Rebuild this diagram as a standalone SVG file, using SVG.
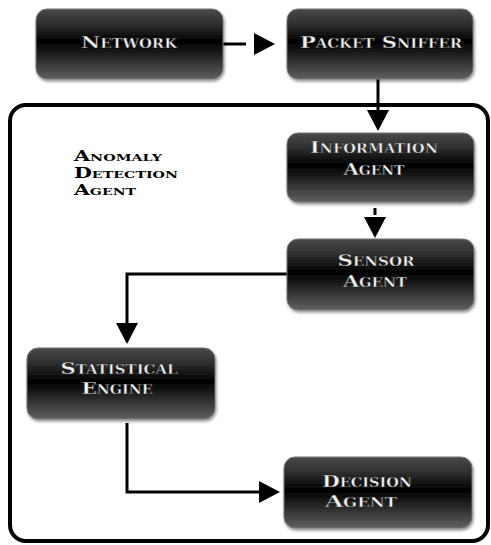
<svg xmlns="http://www.w3.org/2000/svg" width="491" height="545" viewBox="0 0 491 545">
<defs>
<linearGradient id="g" x1="0" y1="0" x2="0" y2="1">
<stop offset="0" stop-color="#4a4a4a"/>
<stop offset="0.22" stop-color="#2e2e2e"/>
<stop offset="0.47" stop-color="#000"/>
<stop offset="0.6" stop-color="#161616"/>
<stop offset="1" stop-color="#606060"/>
</linearGradient>
<filter id="sh" x="-10%" y="-10%" width="120%" height="130%">
<feDropShadow dx="1" dy="2" stdDeviation="1.5" flood-color="#000" flood-opacity="0.45"/>
</filter>
<marker id="ah" markerUnits="userSpaceOnUse" markerWidth="22" markerHeight="24" viewBox="0 0 22 24" refX="0" refY="12" orient="auto">
<path d="M0,1 L21,12 L0,23 z" fill="#000"/>
</marker>
<style>
.box{fill:url(#g);stroke:#777;stroke-width:1;filter:url(#sh)}
.lbl{font-family:"DejaVu Serif","Liberation Serif",serif;font-weight:bold;font-variant:small-caps;font-size:17px;fill:#f2f2f2;text-anchor:middle;stroke:#1a1a1a;stroke-width:0.4}
.ttl{font-family:"DejaVu Serif","Liberation Serif",serif;font-weight:bold;font-variant:small-caps;font-size:14.5px;fill:#000}
.con{fill:none;stroke:#000;stroke-width:3}
</style>
</defs>
<rect id="container" x="10" y="105" width="478" height="436" rx="16" fill="none" stroke="#000" stroke-width="4"/>
<g id="connectors">
<path class="con" d="M223,44 H254" stroke-dasharray="23 100" marker-end="url(#ah)"/>
<path class="con" d="M378,79 V110" marker-end="url(#ah)"/>
<path class="con" d="M375,208 V217" stroke-dasharray="7 20" marker-end="url(#ah)"/>
<path class="con" d="M287,274 H127 V323" marker-end="url(#ah)"/>
<path class="con" d="M127,423 V492 H259" marker-end="url(#ah)"/>
</g>
<g id="anomaly-label">
<text class="ttl" x="74" y="161" textLength="88" lengthAdjust="spacingAndGlyphs">Anomaly</text>
<text class="ttl" x="74" y="178" textLength="104" lengthAdjust="spacingAndGlyphs">Detection</text>
<text class="ttl" x="74" y="195" textLength="62" lengthAdjust="spacingAndGlyphs">Agent</text>
</g>
<g id="network">
<rect class="box" x="36" y="9" width="187" height="70" rx="11"/>
<text class="lbl" x="129" y="48" textLength="96" lengthAdjust="spacingAndGlyphs">Network</text>
</g>
<g id="packet-sniffer">
<rect class="box" x="287" y="9" width="186" height="70" rx="11"/>
<text class="lbl" x="381" y="48" textLength="162" lengthAdjust="spacingAndGlyphs">Packet Sniffer</text>
</g>
<g id="information-agent">
<rect class="box" x="287" y="133" width="187" height="69" rx="11"/>
<text class="lbl" x="374" y="153" textLength="128" lengthAdjust="spacingAndGlyphs">Information</text>
<text class="lbl" x="374" y="175" textLength="61" lengthAdjust="spacingAndGlyphs">Agent</text>
</g>
<g id="sensor-agent">
<rect class="box" x="287" y="239" width="187" height="71" rx="11"/>
<text class="lbl" x="376" y="266" textLength="77" lengthAdjust="spacingAndGlyphs">Sensor</text>
<text class="lbl" x="375" y="287" textLength="64" lengthAdjust="spacingAndGlyphs">Agent</text>
</g>
<g id="statistical-engine">
<rect class="box" x="27" y="348" width="188" height="71" rx="11"/>
<text class="lbl" x="119" y="374" textLength="117" lengthAdjust="spacingAndGlyphs">Statistical</text>
<text class="lbl" x="117" y="394" textLength="71" lengthAdjust="spacingAndGlyphs">Engine</text>
</g>
<g id="decision-agent">
<rect class="box" x="284" y="457" width="188" height="71" rx="11"/>
<text class="lbl" x="367" y="487" textLength="90" lengthAdjust="spacingAndGlyphs">Decision</text>
<text class="lbl" x="361" y="507" textLength="72" lengthAdjust="spacingAndGlyphs">Agent</text>
</g>
</svg>
